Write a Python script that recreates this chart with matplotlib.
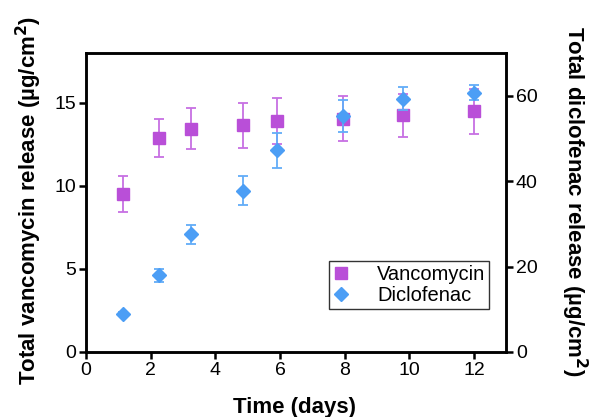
#!/usr/bin/env python

import matplotlib
matplotlib.use("Agg")
import matplotlib.pyplot as plt

plt.rcParams['font.family'] = ['Liberation Sans', 'DejaVu Sans']

# time points (days)
days = [1.15, 2.25, 3.25, 4.85, 5.9, 7.95, 9.8, 12.0]

# vancomycin release (ug/cm2), left axis
vanco = [9.5, 12.9, 13.45, 13.65, 13.9, 14.05, 14.25, 14.5]
vanco_err = [1.1, 1.15, 1.25, 1.35, 1.4, 1.35, 1.3, 1.35]

# diclofenac release (ug/cm2), right axis
diclo = [8.9, 17.9, 27.5, 37.7, 47.2, 55.3, 59.3, 60.7]
diclo_err = [0.4, 1.6, 2.3, 3.4, 4.1, 3.7, 2.7, 1.7]

VAN_COLOR = '#B94FD8'
VAN_ERR = '#C770E3'
DIC_COLOR = '#4C9EF5'
DIC_ERR = '#62ADF8'


def main():
    fig = plt.figure(figsize=(5.9, 4.17), dpi=100)
    ax = fig.add_axes([0.146, 0.156, 0.712, 0.717])
    ax2 = ax.twinx()

    h1 = ax.errorbar(days, vanco, yerr=vanco_err, fmt='s', color=VAN_COLOR,
                     ecolor=VAN_ERR, markersize=8, capsize=3.6, elinewidth=1.3,
                     capthick=1.3, label='Vancomycin', zorder=3)
    h2 = ax2.errorbar(days, diclo, yerr=diclo_err, fmt='D', color=DIC_COLOR,
                      ecolor=DIC_ERR, markersize=7.5, capsize=3.6, elinewidth=1.3,
                      capthick=1.3, label='Diclofenac', zorder=3)

    ax.set_xlim(0, 13)
    ax.set_ylim(0, 18)
    ax2.set_ylim(0, 70)
    ax.set_xticks([0, 2, 4, 6, 8, 10, 12])
    ax.set_yticks([0, 5, 10, 15])
    ax2.set_yticks([0, 20, 40, 60])

    for a in (ax, ax2):
        for s in a.spines.values():
            s.set_linewidth(1.8)
        a.tick_params(width=1.8, length=5, labelsize=14, pad=2)

    ax.set_xlabel('Time (days)', fontsize=16, fontweight='bold', va='center')
    ax.xaxis.set_label_coords(0.496, -0.186)
    ax.set_ylabel('Total vancomycin release (\u00b5g/cm$^\\mathbf{2}$)',
                  fontsize=16, fontweight='bold', va='center')
    ax.yaxis.set_label_coords(-0.137, 0.505)
    ax2.set_ylabel('Total diclofenac release (\u00b5g/cm$^\\mathbf{2}$)',
                   fontsize=16, fontweight='bold', rotation=270, va='center')
    ax2.yaxis.set_label_coords(1.162, 0.505)

    leg = ax2.legend([h1[0], h2[0]], ['Vancomycin', 'Diclofenac'],
                     loc='lower right', bbox_to_anchor=(0.96, 0.144),
                     borderaxespad=0, fontsize=14.5, frameon=True,
                     fancybox=False, handletextpad=1.4, borderpad=0.2,
                     labelspacing=0.1, handlelength=0.8)
    leg.get_frame().set_edgecolor('black')
    leg.get_frame().set_linewidth(1.0)

    fig.savefig('out.png', dpi=100)


if __name__ == "__main__":
    main()
